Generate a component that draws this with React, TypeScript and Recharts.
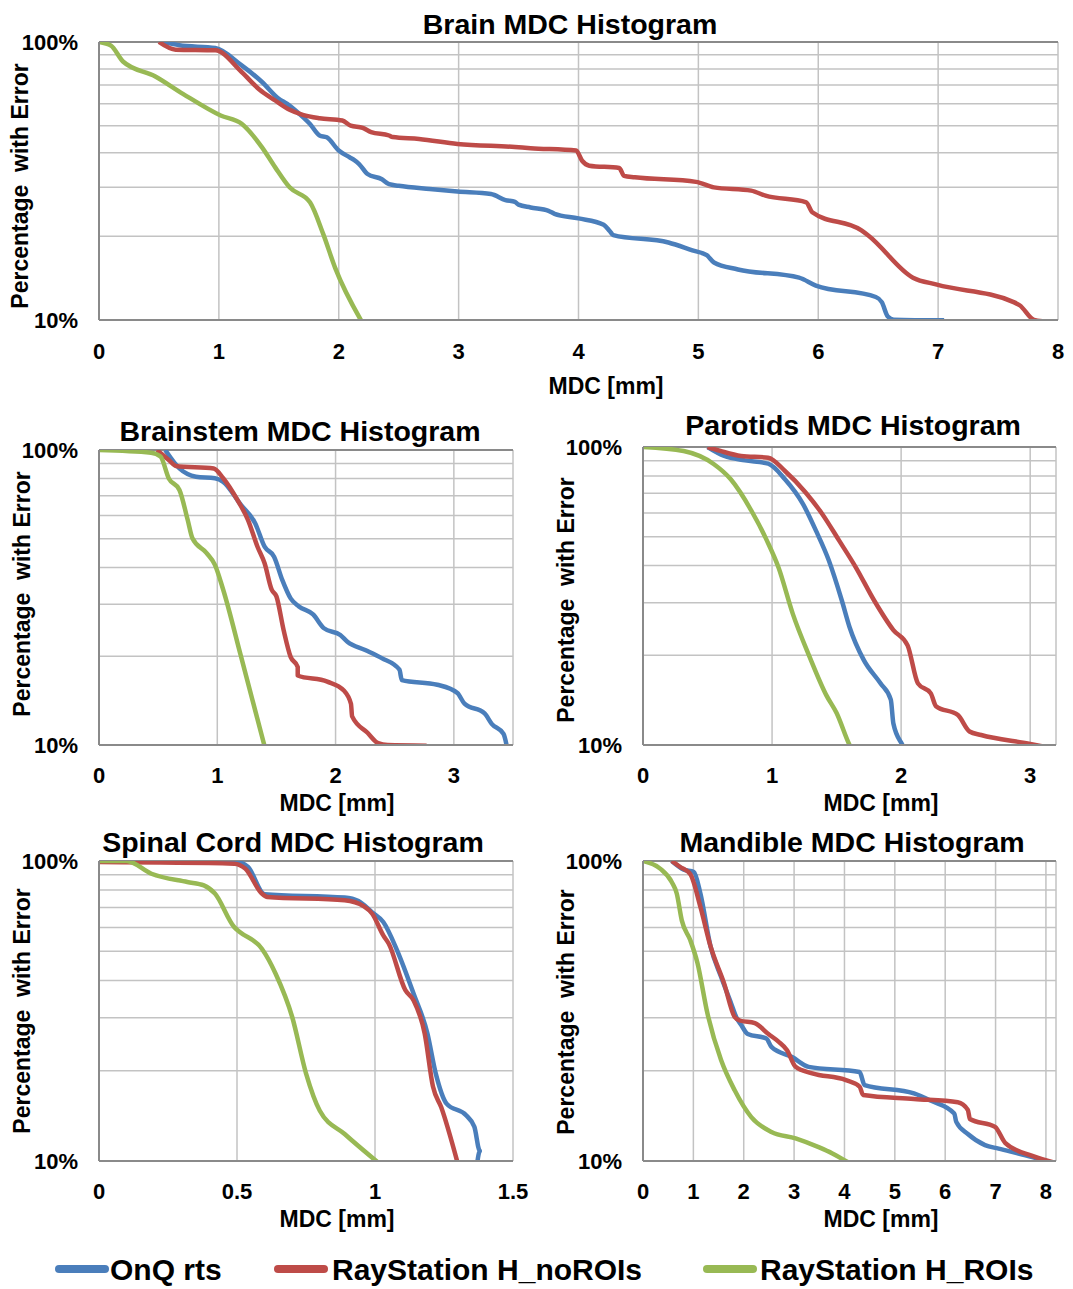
import React from 'react';
import { LineChart, Line, XAxis, YAxis, CartesianGrid, ReferenceLine } from 'recharts';

// ---------- series meta ----------
const seriesNames = ['OnQ rts', 'RayStation H_noROIs', 'RayStation H_ROIs'];
const seriesColors = ['#4A7EBB', '#BE4B48', '#98B954'];

// ---------- axis ticks ----------
const yTicks = [10, 20, 30, 40, 50, 60, 70, 80, 90, 100];
const yTickLabels: Record<number, string> = { 10: '10%', 100: '100%' };
const brainXTicks = [0, 1, 2, 3, 4, 5, 6, 7, 8];
const brainstemXTicks = [0, 1, 2, 3];
const parotidsXTicks = [0, 1, 2, 3];
const spinalXTicks = [0, 0.5, 1, 1.5];
const mandibleXTicks = [0, 1, 2, 3, 4, 5, 6, 7, 8];

// ---------- Brain ----------
const brainOnQ: [number, number][] = [
  [0.53, 100], [0.61, 98.6], [0.67, 97.3], [0.97, 95.1], [1.19, 82.4], [1.36, 71.8], [1.5, 62.5],
  [1.57, 59.9], [1.67, 55.2], [1.76, 50.7], [1.84, 46.1], [1.9, 45.4], [2.0, 40.7], [2.09, 38.5],
  [2.13, 37.6], [2.17, 36.4], [2.24, 33.5], [2.36, 32.1], [2.42, 30.8], [2.5, 30.4], [2.76, 29.6],
  [2.99, 29.0], [3.27, 28.4], [3.39, 27.0], [3.47, 26.6], [3.5, 26.0], [3.6, 25.4], [3.75, 24.7],
  [3.8, 24.1], [4.0, 23.2], [4.21, 22.0], [4.26, 20.9], [4.29, 20.2], [4.75, 19.0], [4.95, 17.8],
  [5.07, 17.1], [5.13, 16.1], [5.33, 15.2], [5.84, 14.2], [5.98, 13.3], [6.48, 12.1], [6.53, 11.6],
  [6.58, 10.3], [6.63, 10.03], [7.05, 9.97],
];
const brainNoROIs: [number, number][] = [
  [0.5, 100], [0.64, 93.8], [0.97, 93.3], [1.19, 78], [1.34, 67.3], [1.47, 61.6], [1.59, 57],
  [1.7, 54.7], [1.84, 53.2], [2.03, 52.2], [2.1, 50], [2.2, 49.1], [2.27, 47.4], [2.42, 46.1],
  [2.45, 45.5], [2.67, 44.8], [2.99, 43], [3.47, 41.9], [3.6, 41.5], [3.98, 40.7], [4.03, 37.4],
  [4.09, 35.9], [4.34, 35.2], [4.38, 33.0], [4.47, 32.6], [4.98, 31.4], [5.13, 30.0], [5.44, 29.2],
  [5.56, 28.0], [5.9, 26.5], [5.95, 24.4], [6.36, 21.0], [6.42, 20.1], [6.79, 14.2], [6.99, 13.4],
  [7.63, 11.6], [7.68, 11.3], [7.8, 10.0], [7.87, 9.9],
];
const brainROIs: [number, number][] = [
  [0, 100], [0.1, 97], [0.2, 85.1], [0.47, 75.2], [0.7, 65.1], [1.015, 54.4], [1.19, 50.8],
  [1.36, 41.8], [1.47, 35.4], [1.59, 30.0], [1.76, 26.5], [1.87, 20.4], [1.97, 15.4], [2.19, 9.9],
];

// ---------- Brainstem ----------
const brainstemOnQ: [number, number][] = [
  [0.56, 100], [0.68, 86.6], [0.82, 81.2], [0.98, 80.2], [1.05, 78], [1.2, 65.1], [1.32, 56.5],
  [1.4, 47.0], [1.48, 43.5], [1.55, 36.2], [1.62, 31.4], [1.69, 29.5], [1.81, 27.7], [1.9, 24.9],
  [2.04, 23.6], [2.1, 22.4], [2.25, 21.0], [2.39, 19.7], [2.54, 18.0], [2.56, 16.6], [2.86, 16.0],
  [3.03, 15.0], [3.09, 13.8], [3.26, 12.8], [3.32, 11.8], [3.42, 10.9], [3.45, 9.8],
];
const brainstemNoROIs: [number, number][] = [
  [0.49, 100], [0.59, 92.5], [0.65, 88.3], [0.97, 86.6], [1.05, 80.2], [1.17, 67.7], [1.26, 57.9],
  [1.34, 47.0], [1.4, 41.3], [1.46, 33.6], [1.5, 31.9], [1.56, 24.6], [1.62, 19.9], [1.68, 18.4],
  [1.68, 17.2], [1.93, 16.4], [2.07, 15.3], [2.13, 13.8], [2.14, 12.5], [2.27, 11.0], [2.36, 10.15],
  [2.44, 10.0], [2.77, 9.95],
];
const brainstemROIs: [number, number][] = [
  [0, 100], [0.44, 97.9], [0.52, 95], [0.59, 80.1], [0.68, 73.2], [0.75, 57.9], [0.79, 50.2],
  [0.91, 44.7], [0.98, 40.8], [1.05, 33.6], [1.2, 20.0], [1.4, 9.9],
];

// ---------- Parotids ----------
const parotidsOnQ: [number, number][] = [
  [0.5, 100], [0.63, 93.3], [0.79, 90.2], [0.97, 87.9], [1.1, 77.9], [1.24, 64.3], [1.34, 52.4],
  [1.44, 41.6], [1.54, 30.6], [1.6, 24.9], [1.71, 19.3], [1.84, 16.1], [1.92, 14.2], [1.94, 11.8],
  [2.01, 10.0], [2.02, 9.8],
];
const parotidsNoROIs: [number, number][] = [
  [0.5, 100], [0.6, 97], [0.76, 93.3], [0.97, 92.1], [1.1, 83.1], [1.26, 70.4], [1.39, 59.5],
  [1.52, 48.5], [1.65, 39.4], [1.79, 30.6], [1.94, 24.3], [2.05, 21.6], [2.13, 16.1], [2.23, 14.9],
  [2.27, 13.5], [2.44, 12.6], [2.53, 11.1], [2.62, 10.8], [2.99, 10.1], [3.09, 9.9],
];
const parotidsROIs: [number, number][] = [
  [0, 100], [0.315, 96.9], [0.55, 87.5], [0.68, 77.9], [0.84, 61.1], [0.96, 48.5], [1.05, 39.4],
  [1.16, 27.6], [1.29, 19.8], [1.42, 14.7], [1.5, 12.8], [1.6, 10.0], [1.61, 9.8],
];

// ---------- Spinal Cord ----------
const spinalOnQ: [number, number][] = [
  [0, 100], [0.5, 99.2], [0.54, 95.5], [0.6, 77.5], [0.89, 75.5], [0.94, 73.5], [0.99, 67.4],
  [1.03, 62.6], [1.08, 50.4], [1.14, 36.1], [1.19, 26.6], [1.22, 19.6], [1.26, 15.5], [1.33, 14.2],
  [1.36, 13.0], [1.38, 10.8], [1.37, 9.8],
];
const spinalNoROIs: [number, number][] = [
  [0, 99.2], [0.49, 98], [0.53, 94.3], [0.59, 77.9], [0.61, 75.9], [0.89, 74], [0.96, 70.6],
  [0.99, 66.7], [1.03, 56.5], [1.05, 53.0], [1.11, 37.1], [1.14, 34.3], [1.18, 26.6], [1.21, 17.7],
  [1.24, 15.1], [1.3, 9.8],
];
const spinalROIs: [number, number][] = [
  [0, 100], [0.1, 100], [0.19, 90.7], [0.32, 85.1], [0.38, 82.9], [0.42, 77.9], [0.49, 60.2],
  [0.51, 58.0], [0.59, 51.0], [0.64, 42.1], [0.7, 30.2], [0.75, 19.6], [0.8, 14.7], [0.89, 12.3],
  [1.01, 9.9],
];

// ---------- Mandible ----------
const mandibleOnQ: [number, number][] = [
  [0.57, 100], [0.81, 93.6], [1.01, 91.9], [1.14, 77.9], [1.34, 52.0], [1.55, 41.1], [1.75, 33.5],
  [1.85, 30.2], [1.95, 28.4], [2.08, 26.5], [2.45, 25.6], [2.55, 24.0], [2.96, 22.2], [3.29, 20.6],
  [4.3, 19.8], [4.4, 17.9], [5.38, 16.8], [5.71, 15.9], [6.18, 14.4], [6.22, 13.5], [6.45, 12.3],
  [6.79, 11.3], [7.06, 11.0], [7.73, 10.3], [8.07, 9.9],
];
const mandibleNoROIs: [number, number][] = [
  [0.57, 100], [0.74, 95.5], [0.94, 90.3], [1.14, 70.3], [1.34, 52], [1.61, 39.1], [1.82, 30.2],
  [1.92, 29.4], [2.22, 28.8], [2.49, 26.5], [2.69, 25.0], [2.86, 23.4], [3.03, 20.6], [3.36, 19.6],
  [4.03, 18.6], [4.3, 17.7], [4.37, 16.6], [5.38, 16.1], [6.25, 15.7], [6.45, 14.8], [6.49, 13.8],
  [6.99, 13.0], [7.19, 11.5], [7.73, 10.4], [8.24, 9.8],
];
const mandibleROIs: [number, number][] = [
  [0, 100], [0.34, 94.3], [0.57, 85.1], [0.67, 77.9], [0.77, 63.4], [0.94, 54.4], [1.08, 45.8],
  [1.28, 31.0], [1.55, 21.7], [1.82, 17.2], [2.15, 14.0], [2.55, 12.5], [3.03, 11.9], [3.5, 11.1],
  [3.76, 10.6], [4.07, 9.9],
];

// ---------- helpers ----------
const FONT = "'Liberation Sans', Arial, Helvetica, sans-serif";
const toPts = (a: [number, number][]) => a.map(([x, y]) => ({ x, y }));

type Box = { x: number; y: number; w: number; h: number };
type Plot = { l: number; t: number; r: number; b: number };

const XH = 60;

function Panel(props: {
  box: Box;
  plot: Plot;
  xMax: number;
  xTicks: number[];
  series: [number, number][][];
  xTickMargin: number;
}) {
  const { box, plot, xMax, xTicks, series, xTickMargin } = props;
  const margin = {
    top: plot.t - box.y,
    right: box.x + box.w - plot.r,
    left: 0,
    bottom: box.y + box.h - plot.b - XH,
  };
  const xTickStyle = { fill: '#000', fontSize: 22, fontWeight: 700, fontFamily: FONT };
  const yTickStyle = { fill: '#000', fontSize: 22, fontWeight: 700, fontFamily: FONT };
  return (
    <div style={{ position: 'absolute', left: box.x, top: box.y, width: box.w, height: box.h }}>
      <LineChart width={box.w} height={box.h} margin={margin}>
        <CartesianGrid stroke="#c3c3c3" strokeWidth={1.5} />
        <XAxis
          type="number"
          dataKey="x"
          domain={[0, xMax]}
          ticks={xTicks}
          interval={0}
          allowDataOverflow
          height={XH}
          tickLine={false}
          tickSize={0}
          tickMargin={xTickMargin}
          axisLine={{ stroke: '#8a8a8a', strokeWidth: 2 }}
          tick={xTickStyle}
        />
        <YAxis
          type="number"
          scale="log"
          domain={[10, 100]}
          ticks={yTicks}
          interval={0}
          allowDataOverflow
          width={plot.l - box.x}
          tickLine={false}
          tickSize={0}
          tickMargin={21}
          axisLine={{ stroke: '#8a8a8a', strokeWidth: 2 }}
          tick={yTickStyle}
          tickFormatter={(v: number) => yTickLabels[v] ?? ''}
        />
        <ReferenceLine y={100} stroke="#8a8a8a" strokeWidth={2} ifOverflow="visible" />
        {series.map((s, i) => (
          <Line
            key={seriesNames[i]}
            name={seriesNames[i]}
            data={toPts(s)}
            dataKey="y"
            type="monotone"
            stroke={seriesColors[i]}
            strokeWidth={4.5}
            dot={false}
            activeDot={false}
            isAnimationActive={false}
            strokeLinejoin="round"
          />
        ))}
      </LineChart>
    </div>
  );
}

const titleStyle: React.CSSProperties = { fontFamily: FONT, fontWeight: 700, fontSize: 28.5 };
const labelStyle: React.CSSProperties = { fontFamily: FONT, fontWeight: 700, fontSize: 23, whiteSpace: 'pre' };

function Texts() {
  const titles: [string, number, number][] = [
    ['Brain MDC Histogram', 570, 24],
    ['Brainstem MDC Histogram', 300, 431],
    ['Parotids MDC Histogram', 853, 425],
    ['Spinal Cord MDC Histogram', 293, 842],
    ['Mandible MDC Histogram', 852, 842],
  ];
  const xLabels: [number, number][] = [
    [606, 386], [337, 803], [881, 803], [337, 1219], [881, 1219],
  ];
  const yLabels: [number, number][] = [
    [20, 186], [22, 594], [566, 600], [22, 1011], [566, 1012],
  ];
  return (
    <svg width={1073} height={1289} style={{ position: 'absolute', left: 0, top: 0, pointerEvents: 'none' }}>
      {titles.map(([t, x, y]) => (
        <text key={t} x={x} y={y} textAnchor="middle" dominantBaseline="central" style={titleStyle}>{t}</text>
      ))}
      {xLabels.map(([x, y], i) => (
        <text key={'x' + i} x={x} y={y} textAnchor="middle" dominantBaseline="central" style={labelStyle}>MDC [mm]</text>
      ))}
      {yLabels.map(([x, y], i) => (
        <text
          key={'y' + i}
          x={x}
          y={y}
          textAnchor="middle"
          dominantBaseline="central"
          transform={`rotate(-90 ${x} ${y})`}
          style={labelStyle}
        >
          {'Percentage  with Error'}
        </text>
      ))}
    </svg>
  );
}

function Legend() {
  const items: [number, number][] = [[55, 110], [274, 332], [703, 760]];
  return (
    <svg width={1073} height={60} style={{ position: 'absolute', left: 0, top: 1240 }}>
      {items.map(([sx, tx], i) => (
        <g key={seriesNames[i]}>
          <line x1={sx + 4} x2={sx + 50} y1={29} y2={29} stroke={seriesColors[i]} strokeWidth={8} strokeLinecap="round" />
          <text x={tx} y={29} dominantBaseline="central" style={{ fontFamily: FONT, fontWeight: 700, fontSize: 30 }}>
            {seriesNames[i]}
          </text>
        </g>
      ))}
    </svg>
  );
}

export default function App() {
  return (
    <div style={{ position: 'absolute', left: 0, top: 0, width: 1073, height: 1289, background: '#fff' }}>
      <Panel
        box={{ x: 0, y: 0, w: 1073, h: 400 }}
        plot={{ l: 99, t: 42, r: 1058, b: 320 }}
        xMax={8}
        xTicks={brainXTicks}
        series={[brainOnQ, brainNoROIs, brainROIs]}
        xTickMargin={23}
      />
      <Panel
        box={{ x: 0, y: 400, w: 540, h: 420 }}
        plot={{ l: 99, t: 450, r: 513, b: 745 }}
        xMax={3.5}
        xTicks={brainstemXTicks}
        series={[brainstemOnQ, brainstemNoROIs, brainstemROIs]}
        xTickMargin={22}
      />
      <Panel
        box={{ x: 540, y: 400, w: 533, h: 420 }}
        plot={{ l: 643, t: 447, r: 1056, b: 745 }}
        xMax={3.2}
        xTicks={parotidsXTicks}
        series={[parotidsOnQ, parotidsNoROIs, parotidsROIs]}
        xTickMargin={22}
      />
      <Panel
        box={{ x: 0, y: 820, w: 540, h: 420 }}
        plot={{ l: 99, t: 861, r: 513, b: 1161 }}
        xMax={1.5}
        xTicks={spinalXTicks}
        series={[spinalOnQ, spinalNoROIs, spinalROIs]}
        xTickMargin={22}
      />
      <Panel
        box={{ x: 540, y: 820, w: 533, h: 420 }}
        plot={{ l: 643, t: 861, r: 1056, b: 1161 }}
        xMax={8.2}
        xTicks={mandibleXTicks}
        series={[mandibleOnQ, mandibleNoROIs, mandibleROIs]}
        xTickMargin={22}
      />
      <Texts />
      <Legend />
    </div>
  );
}
